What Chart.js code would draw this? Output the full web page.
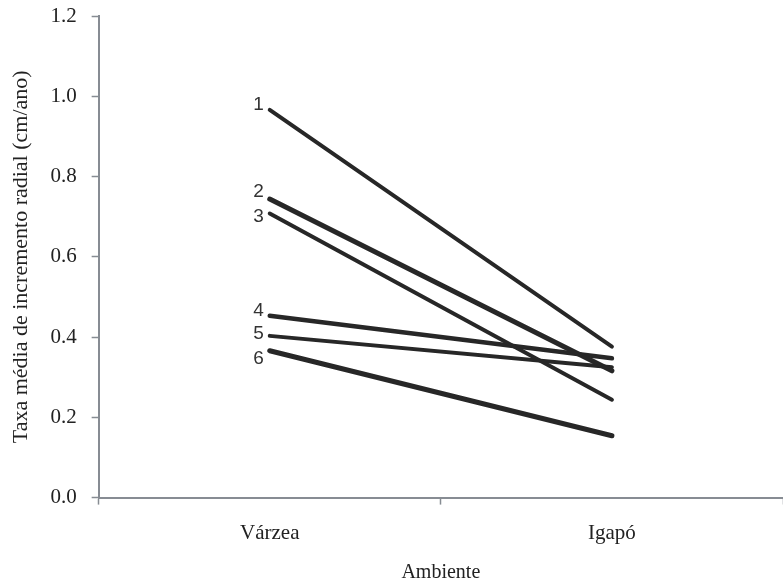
<!DOCTYPE html>
<html lang="pt">
<head>
    <meta charset="UTF-8">
    <title>Taxa média de incremento radial</title>
    <script src="https://cdn.jsdelivr.net/npm/chart.js"></script>
    <style>
        html, body { margin: 0; padding: 0; background: #fff; }
        #wrap { width: 783px; height: 583px; }
    </style>
</head>
<body>
    <div id="wrap"><canvas id="grafico"></canvas></div>

    <script>
        // dados
        const ambientes = ['Várzea', 'Igapó'];
        const rotulos = ['1', '2', '3', '4', '5', '6'];
        const serie1 = [0.966, 0.376];
        const serie2 = [0.744, 0.316];
        const serie3 = [0.708, 0.244];
        const serie4 = [0.453, 0.347];
        const serie5 = [0.403, 0.325];
        const serie6 = [0.366, 0.154];
        const yTicks = [0, 0.2, 0.4, 0.6, 0.8, 1.0, 1.2];

        const series = [serie1, serie2, serie3, serie4, serie5, serie6];
        const espessuras = [4, 5, 4, 4.5, 4, 5];
        const deslocRotulo = [-5, -7, 3, -5, -2, 8];   // ajuste vertical dos números
        const eixoCor = '#878c93';
        const serif = '"Liberation Serif", "Times New Roman", serif';

        // escreve o número de cada linha à esquerda do primeiro ponto
        const numeroLinhas = {
            id: 'numeroLinhas',
            afterDatasetsDraw(chart) {
                const ctx = chart.ctx;
                ctx.save();
                ctx.font = '19px "Liberation Sans", Arial, sans-serif';
                ctx.fillStyle = '#333';
                ctx.textAlign = 'right';
                ctx.textBaseline = 'middle';
                chart.data.datasets.forEach((ds, i) => {
                    const p = chart.getDatasetMeta(i).data[0];
                    ctx.fillText(ds.label, p.x - 6, p.y + deslocRotulo[i]);
                });
                ctx.restore();
            }
        };

        const ctx = document.getElementById('grafico').getContext('2d');
        new Chart(ctx, {
            type: 'line',
            data: {
                labels: ambientes,
                datasets: series.map((s, i) => ({
                    label: rotulos[i],
                    data: s,
                    borderColor: '#272727',
                    borderWidth: espessuras[i],
                    borderCapStyle: 'round',
                    pointRadius: 0,
                    tension: 0,
                    fill: false
                }))
            },
            options: {
                responsive: true,
                maintainAspectRatio: false,
                animation: false,
                layout: { padding: { top: 0, left: 8, right: 0, bottom: 0 } },
                plugins: {
                    legend: { display: false },
                    tooltip: { enabled: false }
                },
                scales: {
                    x: {
                        offset: true,
                        grid: {
                            offset: true,
                            drawOnChartArea: false,
                            drawTicks: true,
                            tickLength: 7,
                            tickColor: eixoCor,
                            tickWidth: 1.5
                        },
                        border: { color: eixoCor, width: 2 },
                        ticks: {
                            padding: 14,
                            color: '#222',
                            font: { family: serif, size: 21, lineHeight: 1.4 }
                        },
                        title: {
                            display: true,
                            text: 'Ambiente',
                            color: '#222',
                            padding: { top: 1, bottom: 0 },
                            font: { family: serif, size: 20, lineHeight: 1.0 }
                        }
                    },
                    y: {
                        min: 0,
                        max: 1.2,
                        afterBuildTicks: axis => { axis.ticks = yTicks.map(v => ({ value: v })); },
                        grid: {
                            drawOnChartArea: false,
                            drawTicks: true,
                            tickLength: 7,
                            tickColor: eixoCor,
                            tickWidth: 1.5
                        },
                        border: { color: eixoCor, width: 2 },
                        ticks: {
                            padding: 15,
                            color: '#222',
                            callback: v => Number(v).toFixed(1),
                            font: { family: serif, size: 21, lineHeight: 0.1 }
                        },
                        title: {
                            display: true,
                            text: 'Taxa média de incremento radial (cm/ano)',
                            color: '#222',
                            padding: { top: 0, bottom: 1 },
                            font: { family: serif, size: 22 }
                        }
                    }
                }
            },
            plugins: [numeroLinhas]
        });
    </script>
</body>
</html>
